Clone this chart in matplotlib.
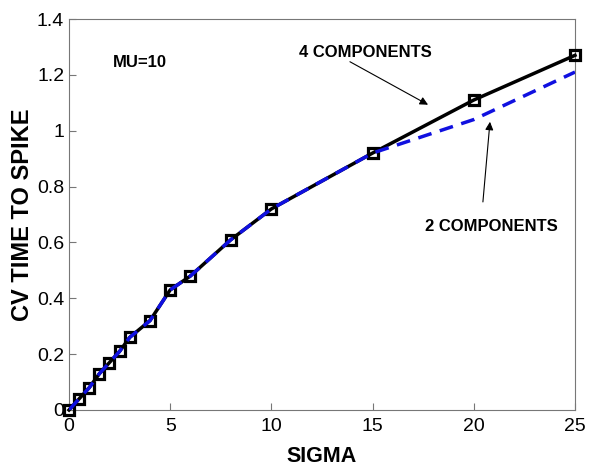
import matplotlib.pyplot as plt
import numpy as np

plt.rcParams['font.family'] = ['Liberation Sans', 'DejaVu Sans']

# valores de sigma e CV do tempo ate o disparo
sigma = [0, 0.5, 1, 1.5, 2, 2.5, 3, 4, 5, 6, 8, 10, 15, 20, 25]
cv4 = [0.0, 0.04, 0.08, 0.13, 0.17, 0.21, 0.26, 0.32, 0.43, 0.48, 0.61, 0.72, 0.92, 1.11, 1.27]
cv2 = [0.0, 0.04, 0.08, 0.13, 0.17, 0.21, 0.26, 0.32, 0.43, 0.48, 0.61, 0.72, 0.92, 1.04, 1.21]

fig = plt.figure(figsize=(5.89, 4.70), dpi=100)
ax = fig.add_axes([69/589, 60/470, (575-69)/589, (410-19)/470])

ax.plot(sigma, cv4, color='black', linewidth=2.5, marker='s', markersize=6.5,
        markerfacecolor='none', markeredgewidth=2.3, markeredgecolor='black',
        clip_on=False, zorder=3)
ax.plot(sigma, cv2, color='#1010e0', linewidth=2.5, linestyle='--', dashes=(4, 2.5),
        zorder=4)

ax.set_xlim(0, 25)
ax.set_ylim(0, 1.4)
ax.set_xticks([0, 5, 10, 15, 20, 25])
ax.set_yticks([0, 0.2, 0.4, 0.6, 0.8, 1, 1.2, 1.4])
ax.set_yticklabels(['0', '0.2', '0.4', '0.6', '0.8', '1', '1.2', '1.4'])
ax.tick_params(direction='in', labelsize=14, length=5, color='#777777')
ax.tick_params(axis='x', pad=6)
for s in ax.spines.values():
    s.set_color('#777777')

ax.set_xlabel('SIGMA', fontsize=15.5, fontweight='bold', labelpad=8)
ax.set_ylabel('CV TIME TO SPIKE', fontsize=17, fontweight='bold', labelpad=2)

ax.text(3.5, 1.244, 'MU=10', fontsize=12, fontweight='bold', ha='center', va='center')

# setas das legendas
ax.text(14.62, 1.28, '4 COMPONENTS', fontsize=12, fontweight='bold', ha='center', va='center')
ax.annotate('', xy=(17.74, 1.093), xytext=(13.88, 1.247),
            arrowprops=dict(arrowstyle='-|>', color='black', lw=0.8,
                            shrinkA=0, shrinkB=0, mutation_scale=12))
ax.text(20.85, 0.656, '2 COMPONENTS', fontsize=12, fontweight='bold', ha='center', va='center')
ax.annotate('', xy=(20.8, 1.032), xytext=(20.45, 0.745),
            arrowprops=dict(arrowstyle='-|>', color='black', lw=0.8,
                            shrinkA=0, shrinkB=0, mutation_scale=12))

fig.savefig('out.png', dpi=100)
